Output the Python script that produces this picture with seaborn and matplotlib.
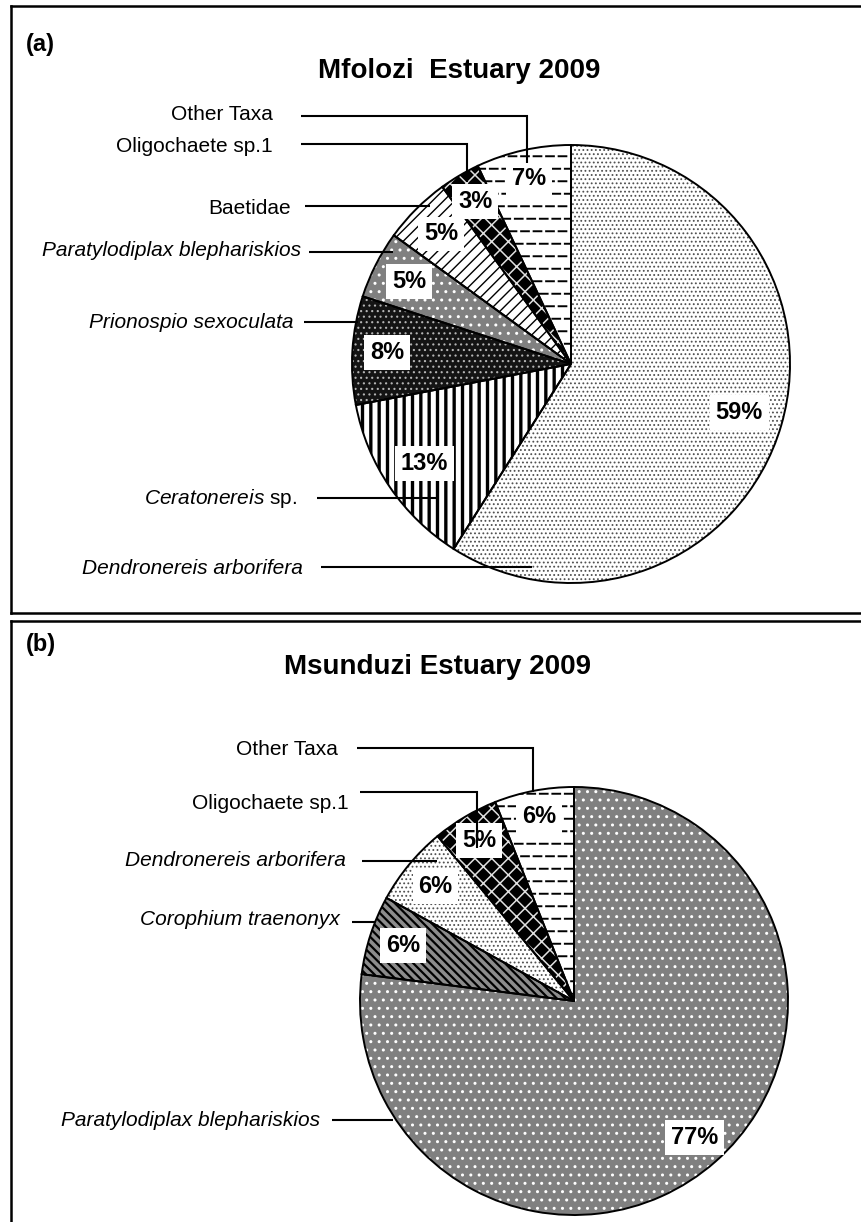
# %%
import numpy as np
import pandas as pd
import seaborn as sns
import matplotlib.pyplot as plt
import matplotlib.hatch as mhatch
from matplotlib.path import Path

sns.set_style("white")
plt.rcParams["font.family"] = ["Liberation Sans", "DejaVu Sans"]
plt.rcParams["mathtext.fontset"] = "custom"
plt.rcParams["mathtext.rm"] = "Liberation Sans"
plt.rcParams["mathtext.it"] = "Liberation Sans:italic"
plt.rcParams["mathtext.bf"] = "Liberation Sans:bold"
plt.rcParams["text.color"] = "black"
plt.rcParams["hatch.linewidth"] = 1.0

# %% data
mfolozi_taxa = ["Dendronereis arborifera", "Ceratonereis sp.", "Prionospio sexoculata",
                "Paratylodiplax blephariskios", "Baetidae", "Oligochaete sp.1", "Other Taxa"]
mfolozi_pct = [59, 13, 8, 5, 5, 3, 7]

msunduzi_taxa = ["Paratylodiplax blephariskios", "Corophium traenonyx",
                 "Dendronereis arborifera", "Oligochaete sp.1", "Other Taxa"]
msunduzi_pct = [77, 6, 6, 5, 6]

df_a = pd.DataFrame({"taxon": mfolozi_taxa, "pct": mfolozi_pct})
df_b = pd.DataFrame({"taxon": msunduzi_taxa, "pct": msunduzi_pct})


# %% dashed horizontal hatch (excel style), takes the '*' slot
class DashedRows(mhatch.HatchPatternBase):
    rows = 8
    dashes = 8
    frac = 0.62

    def __init__(self, hatch, density):
        on = hatch.count("*") > 0
        half = self.rows // 2
        nseg = half * self.dashes + half * (self.dashes + 1) if on else 0
        self.num_vertices = nseg * 2

    def set_vertices_and_codes(self, vertices, codes):
        m = self.dashes
        L = self.frac / m
        segs = []
        for i in range(self.rows):
            y = (i + 0.5) / self.rows
            if i % 2 == 0:
                for j in range(m):
                    xc = (j + 0.5) / m
                    segs.append((xc - L / 2, xc + L / 2, y))
            else:
                for j in range(1, m):
                    xc = j / m
                    segs.append((xc - L / 2, xc + L / 2, y))
                segs.append((0.0, L / 2, y))
                segs.append((1.0 - L / 2, 1.0, y))
        for k, (x0, x1, y) in enumerate(segs):
            vertices[2 * k] = (x0, y)
            vertices[2 * k + 1] = (x1, y)
            codes[2 * k] = Path.MOVETO
            codes[2 * k + 1] = Path.LINETO


DASH = "--"
try:
    mhatch._hatch_types = [h for h in mhatch._hatch_types if h is not mhatch.Stars] + [DashedRows]
    DASH = "*"
except Exception:
    pass

# face, hatch, hatch colour, hatch linewidth
STYLE = {
    "Dendronereis arborifera": ("white", "....", "#505050", 0.8),
    "Ceratonereis sp.": ("white", "||", "black", 2.4),
    "Prionospio sexoculata": ("#141414", "...", "#b4b4b4", 0.8),
    "Paratylodiplax blephariskios": ("#808080", "..", "white", 1.0),
    "Baetidae": ("white", "///", "black", 1.0),
    "Oligochaete sp.1": ("black", "xx", "#e0e0e0", 1.1),
    "Other Taxa": ("white", DASH, "black", 1.4),
    "Corophium traenonyx": ("#8c8c8c", "\\\\\\\\", "black", 1.6),
}

DISPLAY = {
    "Ceratonereis sp.": ("$\\mathit{Ceratonereis}$ sp.", "normal"),
    "Baetidae": ("Baetidae", "normal"),
    "Oligochaete sp.1": ("Oligochaete sp.1", "normal"),
    "Other Taxa": ("Other Taxa", "normal"),
}

# layout in pixels of the 861x1222 picture
W, H = 861, 1222
PANEL_A = dict(box=(11, 6, 870, 613), center=(571, 364), radius=219,
               title="Mfolozi  Estuary 2009", title_xy=(459, 71), tag="(a)", tag_xy=(26, 44),
               pct_dist=[0.80, 0.81, 0.84, 0.83, 0.84, 0.86, 0.87])
PANEL_B = dict(box=(11, 621, 870, 1232), center=(574, 1001), radius=214,
               title="Msunduzi Estuary 2009", title_xy=(437, 667), tag="(b)", tag_xy=(26, 645),
               pct_dist=[0.85, 0.84, 0.84, 0.87, 0.88])

LEADERS_A = {
    "Other Taxa": ((273, 114), [(301, 116), (527, 116), (527, 163)]),
    "Oligochaete sp.1": ((273, 147), [(301, 144), (467, 144), (467, 182)]),
    "Baetidae": ((291, 208), [(305, 206), (430, 206)]),
    "Paratylodiplax blephariskios": ((301, 251), [(309, 252), (393, 252)]),
    "Prionospio sexoculata": ((294, 322), [(304, 322), (358, 322)]),
    "Ceratonereis sp.": ((297, 498), [(317, 498), (437, 498)]),
    "Dendronereis arborifera": ((303, 569), [(321, 567), (532, 567)]),
}
LEADERS_B = {
    "Other Taxa": ((338, 750), [(357, 748), (533, 748), (533, 792)]),
    "Oligochaete sp.1": ((349, 804), [(360, 792), (477, 792), (477, 848)]),
    "Dendronereis arborifera": ((346, 861), [(362, 861), (437, 861)]),
    "Corophium traenonyx": ((340, 920), [(352, 922), (375, 922)]),
    "Paratylodiplax blephariskios": ((320, 1120), [(332, 1120), (393, 1120)]),
}

fig = plt.figure(figsize=(W / 100, H / 100), dpi=100)


def draw_panel(df, panel, leaders):
    L, T, Rx, B = panel["box"]
    cx, cy = panel["center"]
    R = panel["radius"]
    ax = fig.add_axes([L / W, 1 - B / H, (Rx - L) / W, (B - T) / H])

    def px(x, y):
        return (x - cx) / R, (cy - y) / R

    common = dict(startangle=90, counterclock=False, radius=1)
    wedges, _, autotexts = ax.pie(df["pct"], autopct="%.0f%%", wedgeprops=dict(linewidth=0),
                                  textprops=dict(fontsize=17, fontweight="bold", color="black"),
                                  **common)
    for w, t in zip(wedges, df["taxon"]):
        w.set_facecolor(STYLE[t][0])

    hatch_w, _ = ax.pie(df["pct"], wedgeprops=dict(fill=False, linewidth=0), **common)
    for w, t in zip(hatch_w, df["taxon"]):
        face, hatch, hcol, hlw = STYLE[t]
        w.set_edgecolor(hcol)
        w.set_linewidth(0)
        w.set_hatch(hatch)
        if hasattr(w, "set_hatch_linewidth"):
            w.set_hatch_linewidth(hlw)

    ax.pie(df["pct"], wedgeprops=dict(fill=False, edgecolor="black", linewidth=1.4), **common)

    for w, txt, d in zip(wedges, autotexts, panel["pct_dist"]):
        mid = np.deg2rad((w.theta1 + w.theta2) / 2)
        txt.set_position((d * np.cos(mid), d * np.sin(mid)))
        txt.set_bbox(dict(boxstyle="square,pad=0.25", fc="white", ec="none"))
        txt.set_zorder(4)

    for t in df["taxon"]:
        (tx, ty), path = leaders[t]
        label, style = DISPLAY.get(t, (t, "italic"))
        x, y = px(tx, ty)
        ax.text(x, y, label, ha="right", va="center", fontsize=15, fontstyle=style, color="black")
        pts = np.array([px(a, b) for a, b in path])
        ax.plot(pts[:, 0], pts[:, 1], color="black", lw=1.5, zorder=5,
                solid_joinstyle="miter", solid_capstyle="butt")

    ax.set_xlim((L - cx) / R, (Rx - cx) / R)
    ax.set_ylim((cy - B) / R, (cy - T) / R)
    ax.set_aspect("auto")
    ax.set_frame_on(True)
    ax.set_xticks([])
    ax.set_yticks([])
    for s in ax.spines.values():
        s.set_visible(True)
        s.set_color("black")
        s.set_linewidth(1.8)

    tx, ty = panel["title_xy"]
    fig.text(tx / W, 1 - ty / H, panel["title"], ha="center", va="center",
             fontsize=20, fontweight="bold", color="black")
    gx, gy = panel["tag_xy"]
    fig.text(gx / W, 1 - gy / H, panel["tag"], ha="left", va="center",
             fontsize=17, fontweight="bold", color="black")
    return ax


ax_a = draw_panel(df_a, PANEL_A, LEADERS_A)
ax_b = draw_panel(df_b, PANEL_B, LEADERS_B)

fig.savefig("out.png", dpi=100)
